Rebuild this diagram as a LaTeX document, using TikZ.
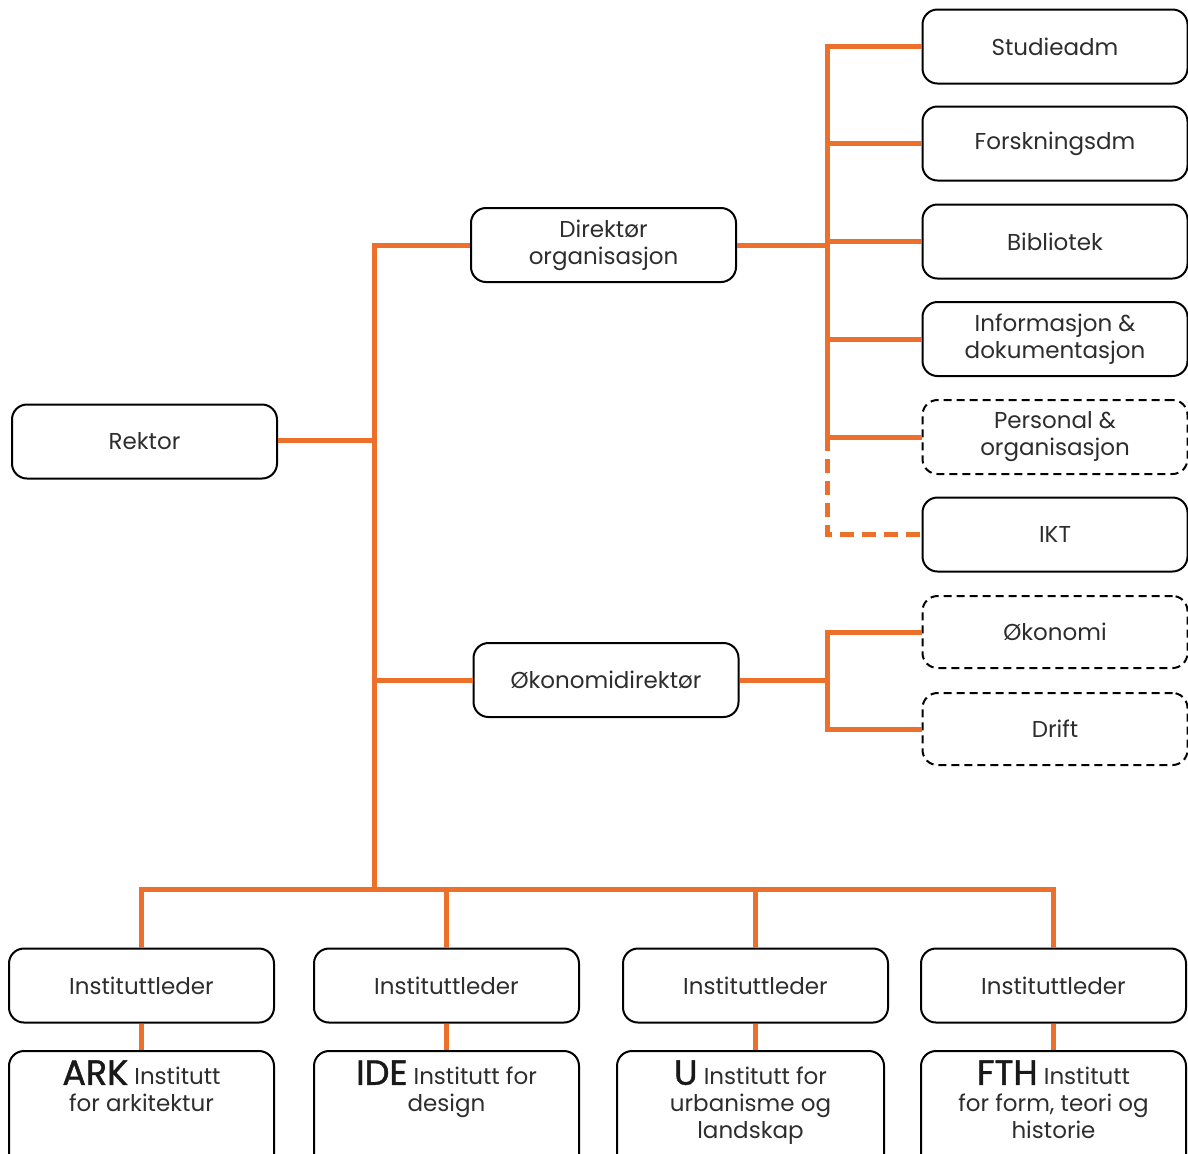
\documentclass[tikz,border=0pt]{standalone}
\usepackage{fontspec}
\setmainfont{Poppins}
\newfontfamily\popbig[FakeBold=1.2]{Poppins}
\definecolor{org}{RGB}{236,112,44}
\definecolor{txt}{RGB}{45,45,45}
\begin{document}
\begin{tikzpicture}[x=0.5pt,y=-0.5pt,
  box/.style={draw=black, line width=1pt, rounded corners=7.5pt,
    minimum width=132.5pt, minimum height=37pt, align=center, text=txt,
    font=\fontsize{11.5}{13.5}\selectfont, inner sep=0pt},
  dbox/.style={box, dash pattern=on 4pt off 2.5pt},
  btxt/.style={align=center, text=txt, font=\fontsize{11.5}{13.5}\selectfont, inner sep=0pt, anchor=north},
  link/.style={draw=org, line width=2.5pt},
  dlink/.style={link, dash pattern=on 7pt off 4pt}]
\useasboundingbox (0,0) rectangle (1188,1153);
\newcommand{\bigab}[1]{{\popbig\fontsize{17.5}{13.5}\selectfont\color{black!90} #1}}
% left column
\node[box] (rektor) at (144.5,441.5) {Rektor};
\node[box] (dirorg) at (603.5,245) {Direktør\\organisasjon};
\node[box] (okdir) at (606,680) {Økonomidirektør};
% right column
\node[box] (stud) at (1055,46.5) {Studieadm};
\node[box] (forsk) at (1055,143.5) {Forskningsdm};
\node[box] (bib) at (1055,241.5) {Bibliotek};
\node[box] (info) at (1055,339) {Informasjon \&\\dokumentasjon};
\node[dbox] (pers) at (1055,437) {Personal \&\\organisasjon};
\node[box] (ikt) at (1055,534.5) {IKT};
\node[dbox, minimum height=36pt] (oko) at (1055,632) {Økonomi};
\node[dbox, minimum height=36pt] (drift) at (1055,729) {Drift};
% institute leaders
\node[box] (il1) at (141.5,985.5) {Instituttleder};
\node[box] (il2) at (446.5,985.5) {Instituttleder};
\node[box] (il3) at (755.5,985.5) {Instituttleder};
\node[box] (il4) at (1053.5,985.5) {Instituttleder};
% institutes
\node[box, anchor=north, minimum height=60pt] (in1) at (141.5,1050) {};
\node[box, anchor=north, minimum height=60pt] (in2) at (446.5,1050) {};
\node[box, anchor=north, minimum height=60pt, minimum width=133.5pt] (in3) at (750.5,1050) {};
\node[box, anchor=north, minimum height=60pt] (in4) at (1053.5,1050) {};
\node[btxt] (t1) at ([yshift=-5pt]in1.north) {\bigab{ARK} Institutt\\for arkitektur};
\node[btxt] (t2) at ([yshift=-5pt]in2.north) {\bigab{IDE} Institutt for\\design};
\node[btxt] (t3) at ([yshift=-5pt]in3.north) {\bigab{U} Institutt for\\urbanisme og\\landskap};
\node[btxt] (t4) at ([yshift=-5pt]in4.north) {\bigab{FTH} Institutt\\for form, teori og\\historie};
% trunk
\coordinate (tr) at (374,889);
\coordinate (rb) at (827,437);
\draw[link] (rektor.east) ++(0,-1.5) coordinate (re) -- (re -| tr);
\draw[link] (dirorg.west) -| (tr);
\draw[link] (okdir.west) -- (okdir.west -| tr);
\draw[link] (il1.north) |- (tr) -| (il4.north);
\draw[link] (il2.north) -- (il2.north |- tr);
\draw[link] (il3.north) -- (il3.north |- tr);
% right bus
\draw[link] (stud.west) -| (rb) -- (pers.west);
\draw[link] (forsk.west) -- (forsk.west -| rb);
\draw[link] (bib.west) -- (bib.west -| rb);
\draw[link] (info.west) -- (info.west -| rb);
\draw[link] (dirorg.east) -- (dirorg.east -| rb);
\draw[dlink] (rb) |- (ikt.west);
% economy bus
\draw[link] (oko.west) -| (drift.west -| rb) -- (drift.west);
\draw[link] (okdir.east) -- (okdir.east -| rb);
% leader to institute
\draw[link] (il1.south) -- (il1.south |- in1.north);
\draw[link] (il2.south) -- (il2.south |- in2.north);
\draw[link] (il3.south) -- (il3.south |- in3.north);
\draw[link] (il4.south) -- (il4.south |- in4.north);
\end{tikzpicture}
\end{document}
